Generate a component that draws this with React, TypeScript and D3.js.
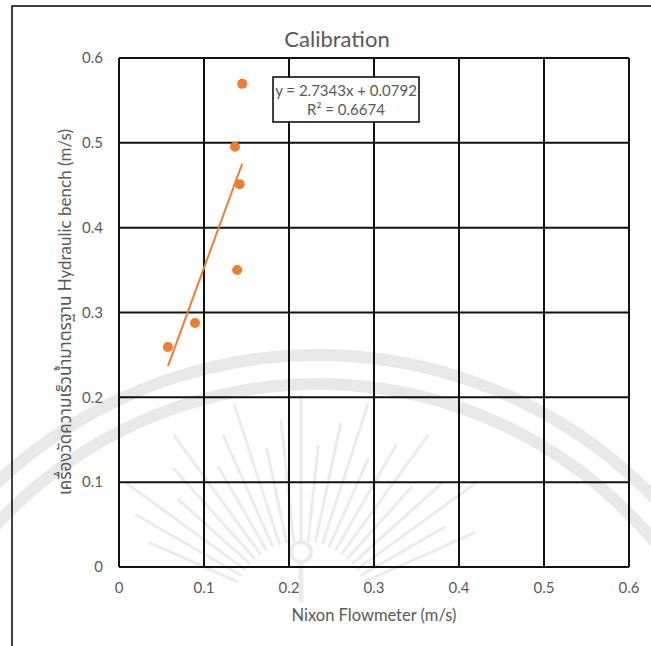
import React from "react";
import * as d3 from "d3";

// ---- data ----
const xTicks = [0, 0.1, 0.2, 0.3, 0.4, 0.5, 0.6];
const yTicks = [0, 0.1, 0.2, 0.3, 0.4, 0.5, 0.6];
const nixonValues = [0.0576, 0.0894, 0.1365, 0.145, 0.142, 0.139];
const benchValues = [0.2594, 0.2877, 0.4953, 0.5695, 0.4512, 0.3502];
const trendSlope = 2.7343;
const trendIntercept = 0.0792;
const equationLines = ["y = 2.7343x + 0.0792", "R² = 0.6674"];
const titleText = "Calibration";
const xTitle = "Nixon Flowmeter (m/s)";
const yTitle = "เครื่องวัดความเร็วน้ำมาตรฐาน Hydraulic bench (m/s)";

const W = 651;
const H = 646;
const plot = { left: 119, top: 58, right: 629, bottom: 567 };
const ORANGE = "#ED7D31";
const TEXT = "#595959";
const FONT = "Lato, 'Open Sans', sans-serif";
const THAI_FONT = "Lato, 'Noto Sans Thai', 'Loma', 'Garuda', 'Tlwg Typo', sans-serif";

export default function App() {
  const x = d3.scaleLinear().domain([0, 0.6]).range([plot.left, plot.right]);
  const y = d3.scaleLinear().domain([0, 0.6]).range([plot.bottom, plot.top]);
  const xMin = d3.min(nixonValues) as number;
  const xMax = d3.max(nixonValues) as number;
  const trend = d3.line<number>().x((v) => x(v)).y((v) => y(trendSlope * v + trendIntercept));

  // faint watermark (seal) decoration
  const wmCx = 318;
  const wmCy = 822;
  const arcs = [467, 438];
  const rayCx = 301;
  const rayCy = 610;
  const rays = d3.range(-66, 67, 6);

  return (
    <svg width={W} height={H} style={{ position: "absolute", left: 0, top: 0, background: "#fff" }}>
      <rect x={0} y={0} width={W} height={H} fill="#fff" />
      {/* watermark */}
      <g>
        {arcs.map((r, i) => (
          <path
            key={i}
            d={d3.arc()({ innerRadius: r - 6, outerRadius: r + 6, startAngle: -1.2, endAngle: 1.2 }) as string}
            transform={`translate(${wmCx},${wmCy})`}
            fill="#e8e8e8"
          />
        ))}
        <g stroke="#ebebeb" strokeLinecap="round" fill="none">
          {rays.map((a, i) => {
            const rad = (a * Math.PI) / 180;
            const r0 = 70;
            const r1 = 165 + (i % 3) * 25;
            return (
              <line
                key={i}
                x1={rayCx + r0 * Math.sin(rad)}
                y1={rayCy - r0 * Math.cos(rad)}
                x2={rayCx + r1 * Math.sin(rad)}
                y2={rayCy - r1 * Math.cos(rad)}
                strokeWidth={3}
              />
            );
          })}
          <circle cx={301} cy={552} r={10} strokeWidth={4} />
          <line x1={301} y1={562} x2={301} y2={600} strokeWidth={5} />
        </g>
      </g>

      {/* outer frame */}
      <rect x={12} y={6} width={W + 10} height={H + 10} fill="none" stroke="#000" strokeWidth={1.5} />

      {/* title */}
      <text x={337} y={47} textAnchor="middle" fontFamily={FONT} fontSize={22} fill={TEXT}>
        {titleText}
      </text>

      {/* grid */}
      <g stroke="#111" strokeWidth={2} fill="none">
        {xTicks.map((t) => (
          <line key={"gx" + t} x1={x(t)} x2={x(t)} y1={plot.top} y2={plot.bottom} />
        ))}
        {yTicks.map((t) => (
          <line key={"gy" + t} x1={plot.left} x2={plot.right} y1={y(t)} y2={y(t)} />
        ))}
      </g>

      {/* tick labels */}
      <g fontFamily={FONT} fontSize={15} fill={TEXT}>
        {yTicks.map((t) => (
          <text key={"ty" + t} x={103} y={y(t)} dy="0.35em" textAnchor="end">
            {d3.format("")(t)}
          </text>
        ))}
        {xTicks.map((t) => (
          <text key={"tx" + t} x={x(t)} y={588} dy="0.35em" textAnchor="middle">
            {d3.format("")(t)}
          </text>
        ))}
      </g>

      {/* axis titles */}
      <text x={374} y={615} dy="0.35em" textAnchor="middle" fontFamily={FONT} fontSize={16.5} fill={TEXT}>
        {xTitle}
      </text>
      <text
        transform={`translate(65,312) rotate(-90)`}
        dy="0.35em"
        textAnchor="middle"
        fontFamily={THAI_FONT}
        fontSize={17}
        fill={TEXT}
      >
        {yTitle}
      </text>

      {/* trendline */}
      <path d={trend([xMin, xMax]) as string} stroke={ORANGE} strokeWidth={2} fill="none" />

      {/* points */}
      {nixonValues.map((v, i) => (
        <circle key={i} cx={x(v)} cy={y(benchValues[i])} r={5} fill={ORANGE} />
      ))}

      {/* equation label */}
      <rect x={273} y={77} width={146} height={45} fill="#fff" stroke="#000" strokeWidth={1.5} />
      <g fontFamily={FONT} fontSize={15} fill={TEXT} textAnchor="middle">
        {equationLines.map((s, i) => (
          <text key={i} x={346} y={96 + i * 19}>
            {s}
          </text>
        ))}
      </g>
    </svg>
  );
}
